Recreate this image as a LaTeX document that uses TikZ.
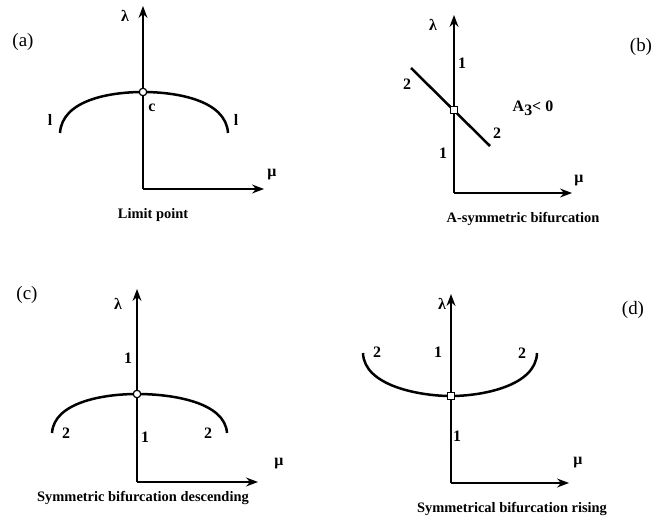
\documentclass[tikz,border=0pt]{standalone}
\usepackage{fontspec}
\setmainfont{Liberation Serif}
\usetikzlibrary{arrows.meta}
\begin{document}
\begin{tikzpicture}[x=1bp,y=-1bp,
  axis/.style={line width=1.3bp,-{Stealth[length=12bp,width=9bp,inset=4bp]}},
  branch/.style={line width=2.5bp},
  thickaxis/.style={line width=2.3bp},
  circmark/.style={circle,draw,fill=white,line width=1.2bp,inner sep=0pt,minimum size=7.5bp},
  sqmark/.style={rectangle,draw,fill=white,line width=1.2bp,inner sep=0pt,minimum size=7bp},
  lbl/.style={font=\fontsize{16}{18}\selectfont\bfseries,inner sep=1bp},
  tagtxt/.style={font=\fontsize{19}{21}\selectfont,inner sep=1bp},
  captxt/.style={font=\fontsize{14.5}{17}\selectfont\bfseries,inner sep=1bp}]
\useasboundingbox (0,0) rectangle (655,518);

% ---------- (a) ----------
\coordinate (aO) at (143,189);
\coordinate (aY) at (143,6);
\coordinate (aX) at (264,189);
\coordinate (aL) at (60,133);
\coordinate (aR) at (228,133);
\draw[axis] (aO) -- (aY);
\draw[axis] (aO) -- (aX);
\draw[branch] (aL) .. controls (62,100) and (110,92) .. (143,92)
              .. controls (176,92) and (226,100) .. (aR);
\node[circmark] (ac) at (143,92) {};
\node[tagtxt] (atag) at (23,42) {(a)};
\node[lbl] (alam) at (125,16) {λ};
\node[lbl] (amu) at (272,175) {μ};
\node[lbl] (ac1) at (152,108) {c};
\node[lbl] (al1) at (50,120) {l};
\node[lbl] (al2) at (236,120) {l};
\node[captxt] (acap) at (153,215) {Limit point};

% ---------- (b) ----------
\coordinate (bO) at (454,193);
\coordinate (bY) at (454,15);
\coordinate (bT) at (454,37);
\coordinate (bX) at (572,193);
\coordinate (bA) at (411,68);
\coordinate (bB) at (490,146);
\draw[axis] (bO) -- (bY);
\draw[axis] (bO) -- (bX);
\draw[thickaxis] (bT) -- (bO);
\draw[branch] (bA) -- (bB);
\node[sqmark] (bs) at (454,110) {};
\node[tagtxt] (btag) at (641,47) {(b)};
\node[lbl] (blam) at (433,25) {λ};
\node[lbl] (bmu) at (579,181) {μ};
\node[lbl] (b1a) at (462,63) {1};
\node[lbl] (b2a) at (407,84) {2};
\node[lbl] (bA3) at (533,108) {A\raisebox{-4bp}{3}< 0};
\node[lbl] (b2b) at (497,133) {2};
\node[lbl] (b1b) at (443,153) {1};
\node[captxt] (bcap) at (523,219) {A-symmetric bifurcation};

% ---------- (c) ----------
\coordinate (cO) at (137,482);
\coordinate (cY) at (137,289);
\coordinate (cT) at (137,317);
\coordinate (cX) at (258,482);
\coordinate (cL) at (52,433);
\coordinate (cR) at (227,433);
\draw[axis] (cO) -- (cY);
\draw[axis] (cO) -- (cX);
\draw[thickaxis] (cT) -- (cO);
\draw[branch] (cL) .. controls (54,402) and (104,394) .. (137,394)
              .. controls (172,394) and (225,402) .. (cR);
\node[circmark] (cc) at (137,394) {};
\node[tagtxt] (ctag) at (27,295) {(c)};
\node[lbl] (clam) at (118,304) {λ};
\node[lbl] (cmu) at (279,464) {μ};
\node[lbl] (c1a) at (128,358) {1};
\node[lbl] (c2a) at (66,433) {2};
\node[lbl] (c1b) at (145,437) {1};
\node[lbl] (c2b) at (208,433) {2};
\node[captxt] (ccap) at (143,498) {Symmetric bifurcation descending};

% ---------- (d) ----------
\coordinate (dO) at (451,483);
\coordinate (dY) at (451,294);
\coordinate (dT) at (451,317);
\coordinate (dX) at (569,483);
\coordinate (dL) at (363,353);
\coordinate (dR) at (537,353);
\draw[axis] (dO) -- (dY);
\draw[axis] (dO) -- (dX);
\draw[thickaxis] (dT) -- (dO);
\draw[branch] (dL) .. controls (364,386) and (420,396) .. (451,396)
              .. controls (482,396) and (536,386) .. (dR);
\node[sqmark] (ds) at (451,396) {};
\node[tagtxt] (dtag) at (633,310) {(d)};
\node[lbl] (dlam) at (442,304) {λ};
\node[lbl] (dmu) at (578,463) {μ};
\node[lbl] (d2a) at (377,352) {2};
\node[lbl] (d1a) at (438,352) {1};
\node[lbl] (d2b) at (522,353) {2};
\node[lbl] (d1b) at (457,436) {1};
\node[captxt] (dcap) at (512,509) {Symmetrical bifurcation rising};
\end{tikzpicture}
\end{document}
